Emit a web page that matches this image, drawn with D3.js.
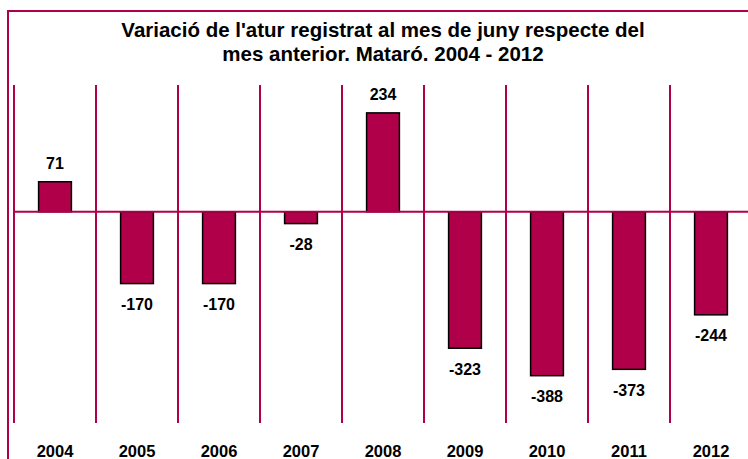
<!DOCTYPE html>
<html>
<head>
<meta charset="utf-8">
<script src="https://cdn.jsdelivr.net/npm/d3@7"></script>
<style>
  body { margin: 0; background: #fff; }
  svg { display: block; font-family: Arial, "Liberation Sans", Helvetica, sans-serif; }
</style>
</head>
<body>
<div id="chart"></div>
<script>
// Variació de l'atur registrat al mes de juny - Mataró

const years = ['2004', '2005', '2006', '2007', '2008', '2009', '2010', '2011', '2012'];
const variations = [71, -170, -170, -28, 234, -323, -388, -373, -244];
const titleLines = ["Variació de l'atur registrat al mes de juny respecte del",
                    "mes anterior. Mataró. 2004 - 2012"];

const totalWidth = 748;
const totalHeight = 459;
const plot = { left: 14, right: 752, top: 85, bottom: 423 };
const mainColor = '#B0004A';

const svg = d3.select('#chart')
    .append('svg')
    .attr('width', totalWidth)
    .attr('height', totalHeight);

// Outer frame (right and bottom edges fall outside the picture)
svg.append('rect')
    .attr('x', 8)
    .attr('y', 11)
    .attr('width', 760)
    .attr('height', 470)
    .style('fill', 'none')
    .style('stroke', mainColor)
    .style('stroke-width', 2);

// Title
svg.append('text')
    .attr('x', 383)
    .attr('y', 37)
    .attr('text-anchor', 'middle')
    .style('font-size', '20.5px')
    .style('font-weight', 'bold')
    .selectAll('tspan')
    .data(titleLines)
    .enter()
    .append('tspan')
    .attr('x', 383)
    .attr('dy', (d, i) => i === 0 ? 0 : 24)
    .text(d => d);

// Scales
const x = d3.scaleBand()
    .domain(years)
    .range([plot.left, plot.right])
    .paddingInner(0)
    .paddingOuter(0);

const y = d3.scaleLinear()
    .domain([-500, 300])
    .range([plot.bottom, plot.top]);

// Vertical grid lines at category boundaries
svg.append('g')
    .selectAll('line')
    .data(years)
    .enter()
    .append('line')
    .attr('x1', d => x(d))
    .attr('x2', d => x(d))
    .attr('y1', plot.top)
    .attr('y2', plot.bottom)
    .style('stroke', mainColor)
    .style('stroke-width', 2);

// Bars
const barW = x.bandwidth() * 0.4;
svg.append('g')
    .selectAll('rect')
    .data(variations)
    .enter()
    .append('rect')
    .attr('x', (d, i) => x(years[i]) + (x.bandwidth() - barW) / 2)
    .attr('y', d => y(Math.max(0, d)))
    .attr('width', barW)
    .attr('height', d => Math.abs(y(d) - y(0)))
    .style('fill', mainColor)
    .style('stroke', '#000')
    .style('stroke-width', 1.5);

// Zero line
svg.append('line')
    .attr('x1', plot.left)
    .attr('x2', plot.right)
    .attr('y1', y(0))
    .attr('y2', y(0))
    .style('stroke', mainColor)
    .style('stroke-width', 2);

// Value labels
svg.append('g')
    .selectAll('text')
    .data(variations)
    .enter()
    .append('text')
    .attr('x', (d, i) => x(years[i]) + x.bandwidth() / 2)
    .attr('y', d => d >= 0 ? y(d) - 13 : y(d) + 26.5)
    .attr('text-anchor', 'middle')
    .style('font-size', '16px')
    .style('font-weight', 'bold')
    .text(d => d);

// Category labels
svg.append('g')
    .selectAll('text')
    .data(years)
    .enter()
    .append('text')
    .attr('x', d => x(d) + x.bandwidth() / 2)
    .attr('y', 456.5)
    .attr('text-anchor', 'middle')
    .style('font-size', '16.5px')
    .style('font-weight', 'bold')
    .text(d => d);
</script>
</body>
</html>
